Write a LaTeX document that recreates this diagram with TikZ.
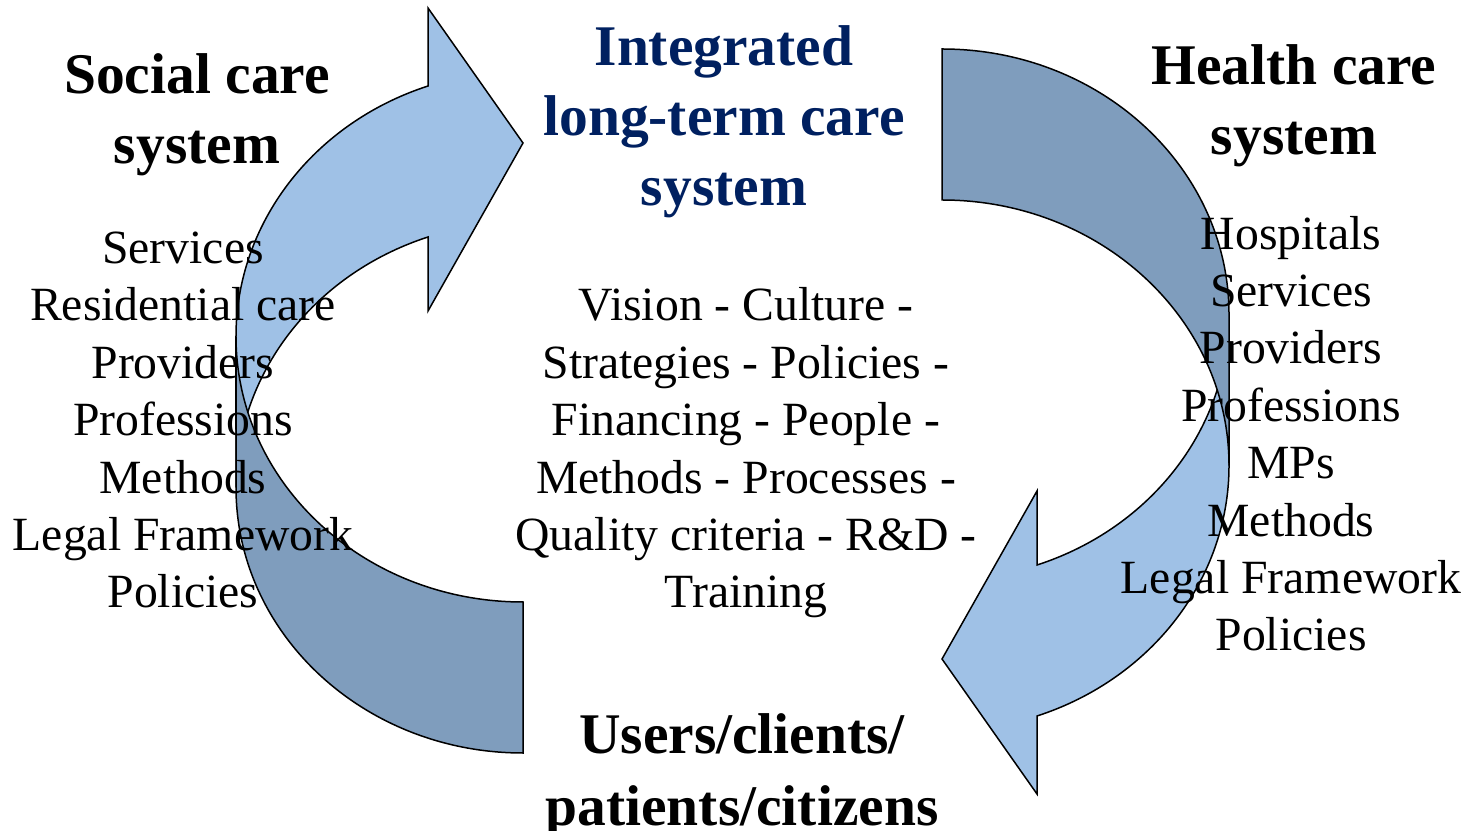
\documentclass[tikz,border=0pt]{standalone}
\usepackage{fontspec}
\setmainfont{Liberation Serif}
\definecolor{arrowlight}{RGB}{159,193,230}
\definecolor{arrowdark}{RGB}{127,157,189}
\definecolor{titleblue}{RGB}{0,32,96}
\begin{document}
\begin{tikzpicture}[x=1pt, y=1pt,
    arrowbody/.style={draw=black, line width=1.5pt, line join=miter},
    lightpart/.style={arrowbody, fill=arrowlight},
    darkpart/.style={arrowbody, fill=arrowdark},
    heading/.style={font=\fontsize{57.5}{70}\selectfont\bfseries, align=center, anchor=base, inner sep=0pt},
    itemlist/.style={font=\fontsize{47.7}{57.4}\selectfont, align=center, anchor=base, inner sep=0pt}]
    \useasboundingbox (0,0) rectangle (1474,830);
    %Curved arrows (the right one is the left one turned round)
    \foreach \turn in {0,180} {
        \begin{scope}[rotate around={\turn:(732.5,429)}]
            \draw[lightpart] (236,342.5) arc [x radius=287, y radius=265.5, start angle=180, end angle=109.33] -- (428,519) -- (523,687) -- (428,822) -- (428,744) arc [x radius=287, y radius=265.5, start angle=109.33, end angle=180] -- cycle;
            \draw[darkpart] (523,77) arc [x radius=287, y radius=265.5, start angle=270, end angle=180] -- (236,493.5) arc [x radius=287, y radius=265.5, start angle=180, end angle=270] -- cycle;
        \end{scope}
    }
    %Headings (anchored at the last line)
    \node[heading] (social) at (197,666) {Social care\\system};
    \node[heading, text=titleblue] (integrated) at (724,624) {Integrated\\long-term care\\system};
    \node[heading] (health) at (1294,675) {Health care\\system};
    \node[heading, font=\fontsize{57.5}{72}\selectfont\bfseries] (users) at (742,5) {Users/clients/\\patients/citizens};
    %Lists
    \node[itemlist] (sociallist) at (183,222) {Services\\Residential care\\Providers\\Professions\\Methods\\Legal Framework\\Policies};
    \node[itemlist] (corelist) at (746,222) {Vision - Culture -\\Strategies - Policies -\\Financing - People -\\Methods - Processes -\\Quality criteria - R\&D -\\Training};
    \node[itemlist] (healthlist) at (1291,179) {Hospitals\\Services\\Providers\\Professions\\MPs\\Methods\\Legal Framework\\Policies};
\end{tikzpicture}
\end{document}
